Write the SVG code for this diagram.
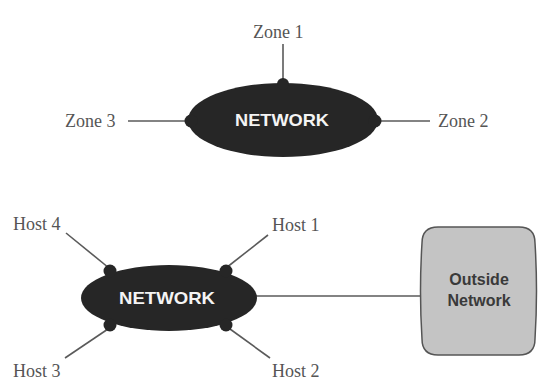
<svg xmlns="http://www.w3.org/2000/svg" width="539" height="388" viewBox="0 0 539 388">
  <style>
    .lbl { font-family: "Liberation Serif", "Times New Roman", serif; font-size: 18px; fill: #555; }
    .net { fill: #262626; }
    .nettxt { font-family: "Liberation Sans", Arial, sans-serif; font-weight: bold; font-size: 17px; fill: #f4f4f4; text-anchor: middle; }
    .link { stroke: #5a5a5a; stroke-width: 1.6; fill: none; }
    .box { fill: #c4c4c4; stroke: #555; stroke-width: 1.5; }
    .boxtxt { font-family: "Liberation Sans", Arial, sans-serif; font-weight: bold; font-size: 16px; fill: #3a3a3a; text-anchor: middle; }
  </style>

  <g id="connectors">
    <line class="link" x1="283" y1="44" x2="283" y2="82"/>
    <line class="link" x1="128" y1="121" x2="190" y2="121"/>
    <line class="link" x1="376" y1="121" x2="430" y2="121"/>
    <line class="link" x1="66" y1="233" x2="109" y2="268"/>
    <line class="link" x1="268" y1="235" x2="226" y2="268"/>
    <line class="link" x1="65" y1="358" x2="108" y2="329"/>
    <line class="link" x1="230" y1="329" x2="270" y2="358"/>
    <line class="link" x1="256" y1="296" x2="422" y2="296"/>
  </g>

  <g id="network-top">
    <ellipse class="net" cx="283" cy="120" rx="95" ry="37"/>
    <circle class="net" cx="283" cy="84" r="6"/>
    <circle class="net" cx="191" cy="121" r="6.5"/>
    <circle class="net" cx="375" cy="121" r="6.5"/>
    <text class="nettxt" x="282" y="126" textLength="94" lengthAdjust="spacingAndGlyphs">NETWORK</text>
  </g>

  <g id="zone1"><text class="lbl" x="253" y="38">Zone 1</text></g>
  <g id="zone2"><text class="lbl" x="438" y="127">Zone 2</text></g>
  <g id="zone3"><text class="lbl" x="65" y="127">Zone 3</text></g>

  <g id="network-bottom">
    <ellipse class="net" cx="169" cy="298" rx="88" ry="33"/>
    <circle class="net" cx="110" cy="271" r="6.5"/>
    <circle class="net" cx="226" cy="271" r="6.5"/>
    <circle class="net" cx="110" cy="325" r="6.5"/>
    <circle class="net" cx="226" cy="325" r="6.5"/>
    <text class="nettxt" x="167" y="304" textLength="96" lengthAdjust="spacingAndGlyphs">NETWORK</text>
  </g>

  <g id="host1"><text class="lbl" x="272" y="231">Host 1</text></g>
  <g id="host2"><text class="lbl" x="272" y="377">Host 2</text></g>
  <g id="host3"><text class="lbl" x="13" y="377">Host 3</text></g>
  <g id="host4"><text class="lbl" x="13" y="230">Host 4</text></g>

  <g id="outside-network">
    <path class="box" d="M438,227 L519,227 Q535,227 535,243 Q538,291 535,339 Q535,355 519,355 L438,355 Q422,355 422,339 Q419,291 422,243 Q422,227 438,227 Z"/>
    <text class="boxtxt" x="479" y="285">Outside</text>
    <text class="boxtxt" x="479" y="306">Network</text>
  </g>
</svg>
